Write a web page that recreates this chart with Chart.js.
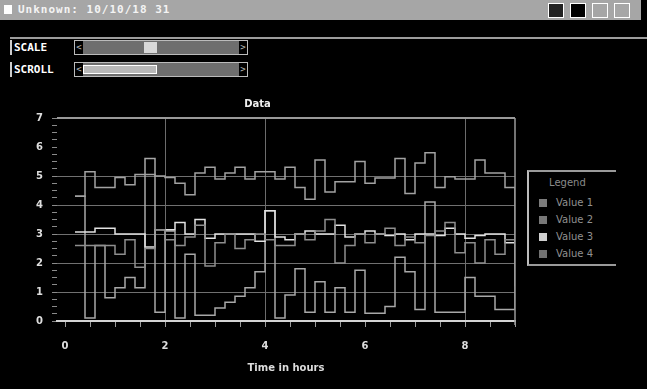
<!DOCTYPE html>
<html lang="en">
<head>
<meta charset="UTF-8" />
<title>Values over time</title>
<script src="https://cdn.jsdelivr.net/npm/chart.js"></script>
<style>
  body{margin:0;background:#000;width:647px;height:389px;overflow:hidden;position:relative;font-family:"DejaVu Sans",Arial,sans-serif;color:#ddd}
  .titlebar{position:absolute;left:0;top:0;width:641px;height:20px;background:#a6a6a6}
  .titlebar .box{position:absolute;left:4px;top:5px;width:8px;height:9px;background:#fff}
  .titlebar .txt{position:absolute;left:18px;top:3px;font:bold 11px "DejaVu Sans Mono",monospace;color:#f4f4f4;letter-spacing:1px}
  .icon{position:absolute;top:3px;width:14px;height:13px;border:1px solid #fff;background:#a6a6a6}
  .sep{position:absolute;left:10px;top:37px;width:637px;height:2px;background:#9c9c9c}
  .lab{position:absolute;left:10px;width:60px;height:15px;border-left:2px solid #ccc;font:bold 11px "DejaVu Sans Mono",monospace;color:#fff;line-height:15px;padding-left:2px}
  .slider{position:absolute;left:74px;width:172px;height:13px;border:1px solid #bbb;background:#6e6e6e}
  .slider .arr{position:absolute;top:0;width:8px;height:13px;background:#000;color:#bbb;font:9px monospace;line-height:13px;text-align:center}
  .thumb{position:absolute;left:69px;top:1px;width:13px;height:11px;background:#d8d8d8}
  .bar{position:absolute;left:8px;top:2px;width:72px;height:7px;border:1px solid #fff;background:#b8b8b8}
  #wrap{position:absolute;left:0;top:90px;width:520px;height:295px}
  .legend{position:absolute;left:527px;top:170px;width:87px;height:92px;border-left:2px solid #bdbdbd;border-top:2px solid #9a9a9a;border-bottom:2px solid #9a9a9a}
  .legend .ttl{position:absolute;left:20px;top:5px;font:10px "DejaVu Sans",sans-serif;color:#8a8a8a}
  .legend .row{position:absolute;left:10px;font:10px "DejaVu Sans",sans-serif;color:#909090;height:10px;line-height:10px}
  .legend .sw{display:inline-block;width:8px;height:8px;margin-right:9px;vertical-align:middle}
</style>
</head>
<body>
  <div class="titlebar">
    <div class="box"></div>
    <div class="txt">Unknown: 10/10/18 31</div>
    <div class="icon" style="left:548px;background:#222"></div>
    <div class="icon" style="left:570px;background:#000"></div>
    <div class="icon" style="left:592px"></div>
    <div class="icon" style="left:614px"></div>
  </div>
  <div class="sep"></div>

  <div class="lab" style="top:40px">SCALE</div>
  <div class="slider" style="top:40px">
    <div class="arr" style="left:0">&lt;</div>
    <div class="thumb"></div>
    <div class="arr" style="right:0">&gt;</div>
  </div>
  <div class="lab" style="top:62px">SCROLL</div>
  <div class="slider" style="top:62px">
    <div class="arr" style="left:0">&lt;</div>
    <div class="bar"></div>
    <div class="arr" style="right:0">&gt;</div>
  </div>

  <div id="wrap"><canvas id="chart" width="520" height="295"></canvas></div>

  <div class="legend" id="legend">
    <div class="ttl">Legend</div>
  </div>

<script>
// --- data ------------------------------------------------------------------
const hours=[0.2,0.4,0.6,0.8,1.0,1.2,1.4,1.6,1.8,2.0,2.2,2.4,2.6,2.8,3.0,3.2,3.4,3.6,3.8,4.0,
  4.2,4.4,4.6,4.8,5.0,5.2,5.4,5.6,5.8,6.0,6.2,6.4,6.6,6.8,7.0,7.2,7.4,7.6,7.8,8.0,8.2,8.4,8.6,8.8,9.0];
const value1=[4.3,5.15,4.6,4.6,4.95,4.7,5.05,5.05,5.0,4.95,4.75,4.35,5.1,5.3,4.9,5.1,5.3,4.9,5.15,5.15,
  4.9,5.3,4.6,4.2,5.55,4.45,4.8,4.8,5.5,4.75,4.93,4.93,5.6,4.4,5.45,5.8,4.6,4.97,4.9,4.9,5.55,5.1,5.1,4.6,1.2];
const value2=[2.6,2.6,2.6,2.6,2.3,2.8,1.85,2.5,3.15,2.8,2.6,2.9,3.3,1.9,2.7,3.0,2.5,2.8,3.0,2.8,
  2.6,2.6,3.0,2.8,3.1,3.5,2.0,2.6,3.0,2.7,3.0,3.2,2.6,2.9,2.7,2.95,3.1,3.4,2.35,2.7,2.0,2.8,2.3,2.8,2.3];
const value3=[3.07,3.07,3.2,3.2,3.0,3.0,3.0,2.55,3.15,3.15,3.4,3.0,3.5,2.85,3.0,3.0,3.0,3.0,2.75,3.8,
  2.9,2.8,3.0,3.1,3.0,3.0,3.3,2.9,3.0,3.1,3.0,2.95,3.0,2.8,3.0,3.0,2.95,3.2,3.0,2.85,2.95,3.0,3.0,2.7,2.7];
const value4=[4.3,0.1,2.6,0.8,1.15,1.5,1.15,5.6,0.3,3.1,0.1,2.3,0.2,0.2,0.45,0.65,0.85,1.15,1.7,3.8,
  0.1,0.9,1.8,0.3,1.35,0.3,1.15,0.3,1.75,0.27,0.27,0.5,2.2,1.7,0.4,4.1,0.3,0.3,0.3,1.5,0.85,0.85,0.4,0.4,2.7];
const seriesNames=["Value 1","Value 2","Value 3","Value 4"];
const xTickLabels=[0,2,4,6,8];
const yTickLabels=[0,1,2,3,4,5,6,7];

// --- styling ---------------------------------------------------------------
const lineColors=['#a2a2a2','#8e8e8e','#e2e2e2','#a8a8a8'];
const swatchColors=['#7c7c7c','#787878','#d0d0d0','#727272'];
const xGrid=[2,4,8];
const yGrid=[1,2,3,4,5];

const allValues=[value1,value2,value3,value4];
const datasets=allValues.map((vals,i)=>({
  label:seriesNames[i],
  data:hours.map((h,j)=>({x:h,y:vals[j]})),
  borderColor:lineColors[i],
  borderWidth:1.5,
  pointRadius:0,
  stepped:true,
  fill:false
}));

// legend (html)
const legend=document.getElementById('legend');
seriesNames.forEach((n,i)=>{
  const row=document.createElement('div');
  row.className='row';
  row.style.top=(26+i*17)+'px';
  row.innerHTML=`<span class="sw" style="background:${swatchColors[i]}"></span>${n}`;
  legend.appendChild(row);
});

// top and right frame lines
const frame={
  id:'frame',
  afterDraw(chart){
    const {ctx,chartArea:a}=chart;
    ctx.save();
    ctx.strokeStyle='#9a9a9a';
    ctx.lineWidth=2;
    ctx.beginPath();
    ctx.moveTo(a.left,a.top);ctx.lineTo(a.right,a.top);
    ctx.stroke();
    ctx.lineWidth=1.5;
    ctx.beginPath();
    ctx.moveTo(a.right,a.top);ctx.lineTo(a.right,a.bottom+4);
    ctx.stroke();
    ctx.restore();
  }
};

const tickFont={family:'"DejaVu Sans", sans-serif',size:10,weight:'bold'};

new Chart(document.getElementById('chart'),{
  type:'line',
  data:{datasets},
  plugins:[frame],
  options:{
    responsive:false,
    animation:false,
    devicePixelRatio:1,
    layout:{padding:{left:0,right:5,top:0,bottom:0}},
    plugins:{
      legend:{display:false},
      tooltip:{enabled:false},
      title:{display:true,text:'Data',color:'#eeeeee',font:{family:'"DejaVu Sans", sans-serif',size:10,weight:'bold'},padding:{top:8,bottom:8}}
    },
    scales:{
      x:{
        type:'linear',min:-0.16,max:9.0,
        afterFit:s=>{s.height=64;s.paddingLeft=0;s.paddingRight=0},
        afterBuildTicks:s=>{
          const t=[];for(let v=0;v<=9;v+=0.5)t.push({value:v});s.ticks=t;
        },
        ticks:{
          autoSkip:false,maxRotation:0,color:'#dddddd',font:tickFont,padding:13,
          callback:v=>xTickLabels.includes(v)?String(v):''
        },
        grid:{
          color:c=>c.tick&&xGrid.includes(c.tick.value)?'#6c6c6c':'transparent',
          tickColor:'#9a9a9a',tickLength:6
        },
        border:{display:true,color:'#d4d4d4',width:2},
        title:{display:true,text:'Time in hours',color:'#dddddd',font:tickFont,padding:{top:2,bottom:11}}
      },
      y:{
        min:0,max:7,
        afterFit:s=>{s.width=57;s.paddingTop=0;s.paddingBottom=0},
        afterBuildTicks:s=>{
          const t=[];for(let v=0;v<=7;v+=0.25)t.push({value:v});s.ticks=t;
        },
        ticks:{
          autoSkip:false,color:'#dddddd',font:tickFont,padding:9,
          callback:v=>yTickLabels.includes(v)?String(v):''
        },
        grid:{
          color:c=>c.tick&&yGrid.includes(c.tick.value)?'#707070':'transparent',
          tickColor:'#8a8a8a',tickLength:5
        },
        border:{display:false}
      }
    }
  }
});
</script>
</body>
</html>
